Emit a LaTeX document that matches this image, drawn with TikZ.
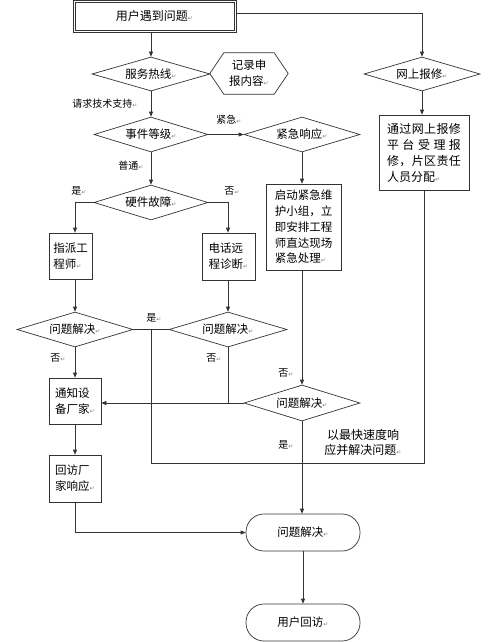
\documentclass[tikz,border=0pt]{standalone}
\usepackage{fontspec}
\setmainfont{Noto Sans CJK SC}
\newfontfamily\dvfont{DejaVu Sans}
\usetikzlibrary{shapes.geometric,arrows.meta}
\newcommand\parmk{{\dvfont\fontsize{6}{6}\selectfont\textcolor{gray}{↵}}}
\begin{document}
\begin{tikzpicture}[x=1pt,y=-1pt,
 line/.style={draw=black!80, line width=0.7pt},
 arr/.style={line, -{Triangle[length=5pt,width=4pt]}},
 dia/.style={diamond, aspect=3.3, line, inner sep=0pt, font=\fontsize{11.5}{14}\selectfont},
 box/.style={rectangle, line, inner sep=0pt, align=left, font=\fontsize{11.5}{16}\selectfont},
 term/.style={rectangle, rounded corners=18pt, line, inner sep=0pt, minimum width=114pt, minimum height=37pt, font=\fontsize{11.5}{14}\selectfont},
 lbl/.style={inner sep=0pt, font=\fontsize{10}{12}\selectfont},
]
\useasboundingbox[fill=white] (0,0) rectangle (500,642);

% top box
\node[box, minimum width=163pt, minimum height=32pt, align=center, font=\fontsize{12}{14}\selectfont] (top) at (154.5,16) {用户遇到问题\parmk};
\draw[line] ([shift={(3,3)}]top.north west) rectangle ([shift={(-2,-2)}]top.south east);

% diamonds
\node[dia, minimum width=118pt, minimum height=34pt] (d1) at (151,74) {服务热线\parmk};
\node[dia, minimum width=116pt, minimum height=34pt] (dweb) at (422,74) {网上报修\parmk};
\node[dia, minimum width=114pt, minimum height=35pt] (d2) at (151,134.5) {事件等级\parmk};
\node[dia, minimum width=116pt, minimum height=35pt] (d3) at (302,134.5) {紧急响应\parmk};
\node[dia, minimum width=114pt, minimum height=35pt] (d4) at (151,202.5) {硬件故障\parmk};
\node[dia, minimum width=116pt, minimum height=35pt] (d5) at (75,329.5) {问题解决\parmk};
\node[dia, minimum width=118pt, minimum height=35pt] (d6) at (228,329.5) {问题解决\parmk};
\node[dia, minimum width=116pt, minimum height=36pt] (d7) at (302,403) {问题解决\parmk};

% hexagon
\node[inner sep=0pt, minimum width=78pt, minimum height=41pt, align=center, font=\fontsize{11.5}{16}\selectfont] (hex) at (249,73.5) {记录申\\报内容\parmk};
\draw[line] ([xshift=14pt]hex.north west) -- ([xshift=-14pt]hex.north east) -- (hex.east) -- ([xshift=-14pt]hex.south east) -- ([xshift=14pt]hex.south west) -- (hex.west) -- cycle;

% boxes
\node[box, minimum width=43pt, minimum height=46pt] (b1) at (70.5,256) {指派工\\程师\parmk};
\node[box, minimum width=53pt, minimum height=47pt] (b2) at (228.5,256.5) {电话远\\程诊断\parmk};
\node[box, minimum width=75pt, minimum height=86pt, font=\fontsize{11.5}{15.8}\selectfont] (b3) at (303.5,227) {启动紧急维\\护小组，立\\即安排工程\\师直达现场\\紧急处理\parmk};
\node[box, minimum width=90pt, minimum height=75pt, font=\fontsize{12}{16}\selectfont] (b4) at (424,152.5) {\makebox[74pt][s]{通\hfil 过\hfil 网\hfil 上\hfil 报\hfil 修}\\\makebox[74pt][s]{平\hfil 台\hfil 受\hfil 理\hfil 报}\\\makebox[74pt][s]{修\hfil ，\hfil 片\hfil 区\hfil 责\hfil 任}\\人员分配\parmk};
\node[box, minimum width=52pt, minimum height=46pt] (b5) at (75,401) {通知设\\备厂家\parmk};
\node[box, minimum width=52pt, minimum height=47pt] (b6) at (75,478.5) {回访厂\\家响应\parmk};

% terminals
\node[term] (t1) at (303,532.5) {问题解决\parmk};
\node[term] (t2) at (303,622.5) {用户回访\parmk};

% free text
\node[inner sep=0pt, align=center, font=\fontsize{12}{15}\selectfont] (note) at (363,442) {以最快速度响\\应并解决问题\parmk};

% labels
\node[lbl] (l1) at (105,104) {请求技术支持\parmk};
\node[lbl] (l2) at (229,120) {紧急\parmk};
\node[lbl] (l3) at (131,166) {普通\parmk};
\node[lbl] (l4) at (79,191) {是\parmk};
\node[lbl] (l5) at (232,191) {否\parmk};
\node[lbl] (l6) at (154,318) {是\parmk};
\node[lbl] (l7) at (58,358) {否\parmk};
\node[lbl] (l8) at (214,358) {否\parmk};
\node[lbl] (l9) at (286,373) {否\parmk};
\node[lbl] (l10) at (286,445) {是\parmk};

% connectors
\draw[arr] (top.south -| d1.north) -- (d1.north);
\draw[arr] ([yshift=3pt]top.east) -| (dweb.north);
\draw[arr] (dweb.south) -- (dweb.south |- b4.north);
\draw[arr] (d1.south) -- (d2.north);
\draw[arr] (d2.east) -- (d3.west);
\draw[arr] (d2.south) -- (d4.north);
\draw[arr] (d3.south) -- (d3.south |- b3.north);
\draw[arr] (d4.west) -| ([xshift=4.5pt]b1.north);
\draw[arr] (d4.east) -| (d6.north |- b2.north);
\draw[arr] ([xshift=4.5pt]b1.south) -- (d5.north);
\draw[arr] (d6.north |- b2.south) -- (d6.north);
\draw[line] (d5.east) -- (d6.west);
\coordinate (j1) at (151,329.5);
\coordinate (jy) at (0,463);
\draw[line] (j1) |- (jy -| b4.south) -- (b4.south);
\draw[arr] (d3.south |- b3.south) -- (d7.north);
\draw[arr] (d5.south) -- (b5.north);
\draw[arr] (d7.west) -- (d7.west -| b5.east);
\draw[line] (d6.south) -- (d6.south |- d7.west);
\draw[arr] (b5.south) -- (b6.north);
\draw[arr] (b6.south) |- (t1.west);
\draw[arr] (d7.south) -- (d7.south |- t1.north);
\draw[arr] (t1.south) -- (t2.north);
\end{tikzpicture}
\end{document}
